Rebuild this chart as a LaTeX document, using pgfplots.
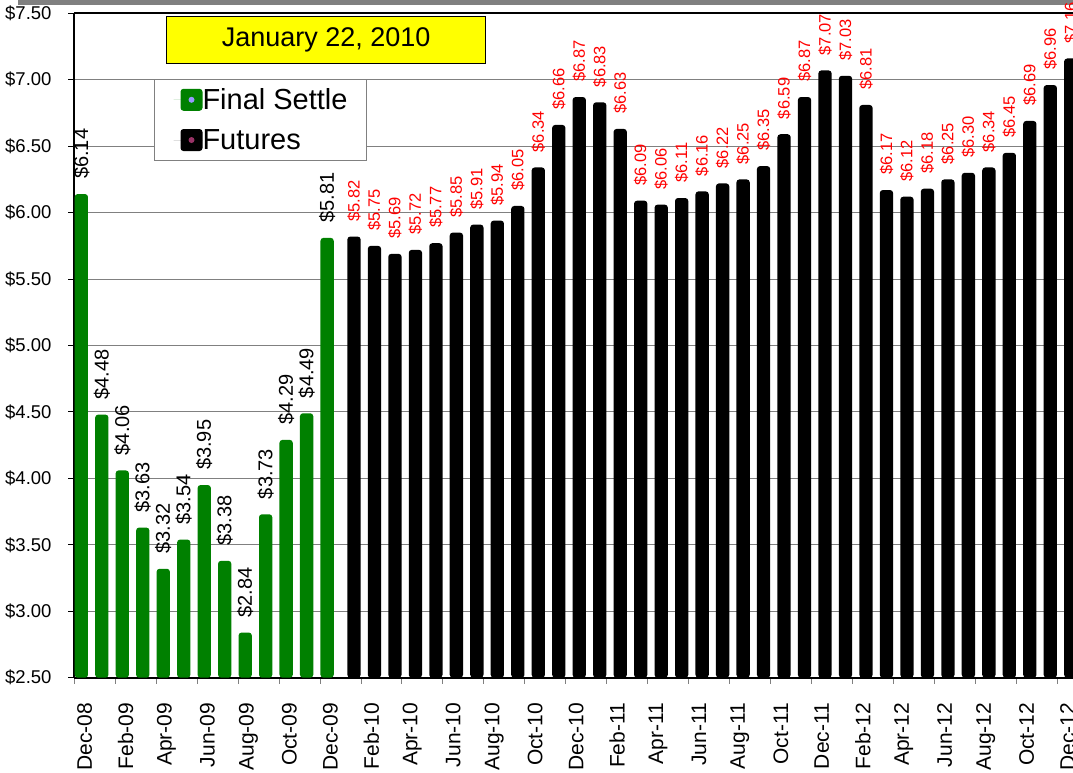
\documentclass[border=0pt]{standalone}
\usepackage{pgfplots}
\pgfplotsset{compat=1.18}
\usepackage{pgfplotstable}
\usepackage{fontspec}
\setmainfont{Liberation Sans}
\definecolor{xlgreen}{HTML}{008000}
\definecolor{xlred}{HTML}{FF0000}
\definecolor{xlgray}{HTML}{808080}
\definecolor{lav}{HTML}{9999FF}
\definecolor{plum}{HTML}{993366}
\definecolor{xlyellow}{HTML}{FFFF00}

\pgfplotstableread{
x y
0 6.14
1 4.48
2 4.06
3 3.63
4 3.32
5 3.54
6 3.95
7 3.38
8 2.84
9 3.73
10 4.29
11 4.49
12 5.81
}\settle

\pgfplotstableread{
x y
13 5.82
14 5.75
15 5.69
16 5.72
17 5.77
18 5.85
19 5.91
20 5.94
21 6.05
22 6.34
23 6.66
24 6.87
25 6.83
26 6.63
27 6.09
28 6.06
29 6.11
30 6.16
31 6.22
32 6.25
33 6.35
34 6.59
35 6.87
36 7.07
37 7.03
38 6.81
39 6.17
40 6.12
41 6.18
42 6.25
43 6.30
44 6.34
45 6.45
46 6.69
47 6.96
48 7.16
}\futures

\begin{document}
\begin{tikzpicture}
\path[use as bounding box] (0pt,0pt) rectangle (1073pt,-772pt);
\fill[xlgray] (18pt,0pt) rectangle (1073pt,-4.7pt);
\begin{axis}[
  at={(74.3pt,-677.7pt)}, anchor=south west,
  scale only axis, width=998.7pt, height=664.4pt,
  xmin=-0.5, xmax=48.265, ymin=2.5, ymax=7.5,
  ybar, bar width=13.3pt,
  axis lines=left, axis line style={-, line width=2pt, black},
  /pgf/number format/assume math mode=true,
  ytick={2.5,3,3.5,4,4.5,5,5.5,6,6.5,7,7.5},
  yticklabels={\$2.50,\$3.00,\$3.50,\$4.00,\$4.50,\$5.00,\$5.50,\$6.00,\$6.50,\$7.00,\$7.50},
  ymajorgrids, grid style={xlgray, line width=1pt},
  xtick={-0.5,1.5,3.5,5.5,7.5,9.5,11.5,13.5,15.5,17.5,19.5,21.5,23.5,25.5,27.5,29.5,31.5,33.5,35.5,37.5,39.5,41.5,43.5,45.5,47.5},
  xticklabels={Dec-08,Feb-09,Apr-09,Jun-09,Aug-09,Oct-09,Dec-09,Feb-10,Apr-10,Jun-10,Aug-10,Oct-10,Dec-10,Feb-11,Apr-11,Jun-11,Aug-11,Oct-11,Dec-11,Feb-12,Apr-12,Jun-12,Aug-12,Oct-12,Dec-12},
  tick align=outside, major tick length=6pt,
  xtick style={xlgray, line width=1pt},
  ytick style={black, line width=1pt},
  xticklabel style={xshift=10.24pt, rotate=90, anchor=east, inner sep=0pt, font=\fontsize{21}{21}\selectfont},
  yticklabel style={anchor=east, inner sep=0pt, font=\fontsize{18.5}{18.5}\selectfont},
  xticklabel shift=19pt,
  yticklabel shift=16.6pt,
  legend style={at={(0.0798,0.9011)}, anchor=north west, draw=xlgray, line width=1pt, fill=white,
    inner xsep=19pt, inner ysep=9pt, row sep=18pt,
    nodes={inner sep=0pt},
    cells={anchor=west},
    font=\fontsize{29}{29}\selectfont,
    /tikz/every even column/.append style={column sep=3pt}},
]
\addplot[fill=xlgreen, draw=none, rounded corners=3pt, bar shift=-3.2pt,
  point meta=y,
  nodes near coords={\$\pgfmathprintnumber[fixed,fixed zerofill,precision=2]{\pgfplotspointmeta}},
  every node near coord/.append style={rotate=90, anchor=west, black,
    font=\fontsize{20}{20}\selectfont, inner xsep=15pt, inner ysep=0pt},
  legend image code/.code={
    \path (0pt,0pt) -- (29pt,0pt);
    \fill[xlgreen, rounded corners=3pt] (7pt,-11pt) rectangle (29pt,11pt);
    \fill[lav] (15pt,-3pt) rectangle (21pt,3pt);
  }] table[x=x,y=y] {\settle};
\addlegendentry{Final Settle}
\addplot[fill=black, draw=none, rounded corners=3pt, bar shift=3.2pt,
  point meta=y,
  nodes near coords={\$\pgfmathprintnumber[fixed,fixed zerofill,precision=2]{\pgfplotspointmeta}},
  every node near coord/.append style={rotate=90, anchor=west, xlred,
    font=\fontsize{16.5}{16.5}\selectfont, inner xsep=15pt, inner ysep=0pt},
  legend image code/.code={
    \path (0pt,0pt) -- (29pt,0pt);
    \fill[black, rounded corners=3pt] (7pt,-11pt) rectangle (29pt,11pt);
    \fill[plum] (15pt,-3pt) rectangle (21pt,3pt);
  }] table[x=x,y=y] {\futures};
\addlegendentry{Futures}
\end{axis}
\draw[line width=2pt] (74.3pt,-13.3pt) -- (1073pt,-13.3pt);
\node[fill=xlyellow, draw=black, line width=1pt, minimum width=319pt, minimum height=46.6pt,
  inner sep=0pt, font=\fontsize{27}{27}\selectfont] at (326.2pt,-40pt) {January 22, 2010};
\end{tikzpicture}
\end{document}
